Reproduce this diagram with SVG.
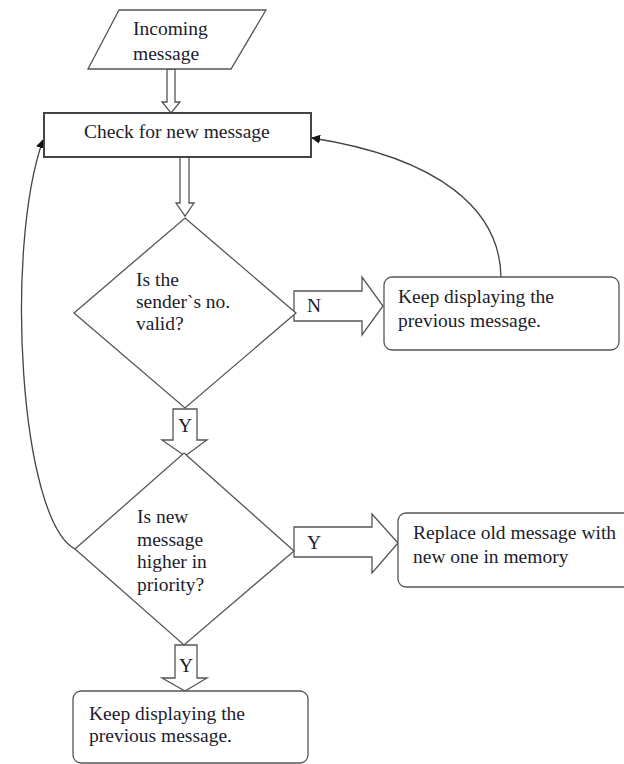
<svg xmlns="http://www.w3.org/2000/svg" width="624" height="764" viewBox="0 0 624 764">
<defs>
<style>
.shape{fill:#fff;stroke:#555;stroke-width:1.3}
.main{fill:#fff;stroke:#444;stroke-width:2}
.blk{fill:#fff;stroke:#555;stroke-width:1.3}
.t{font-family:"Liberation Serif","Times New Roman",serif;font-size:19.5px;fill:#1c1c2c}
.con{fill:none;stroke:#444;stroke-width:1.3}
</style>
<marker id="ah" viewBox="0 0 10 10" refX="9" refY="5" markerWidth="9" markerHeight="9" markerUnits="userSpaceOnUse" orient="auto">
<path d="M0,0 L10,5 L0,10 Z" fill="#111"/>
</marker>
</defs>
<rect width="624" height="764" fill="#fff"/>
<g id="connectors">
<polygon class="blk" points="167,69 175,69 175,102 180,102 171,113 162,102 167,102"/>
<polygon class="blk" points="180,157 189,157 189,203 194,203 185,216 176,203 180,203"/>
<path class="con" d="M501,277 C500,210 440,158 312,138" marker-end="url(#ah)"/>
<path class="con" d="M75,549 C20,520 4,250 43,140" marker-end="url(#ah)"/>
<g id="arrowN">
<polygon class="blk" points="294,291 362,291 362,277 383,306 362,335 362,321 294,321"/>
<text class="t" x="307" y="312">N</text>
</g>
<g id="arrowY1">
<polygon class="blk" points="173,409 197,409 197,440 207,440 185,456 162,440 173,440"/>
<text class="t" x="178" y="432">Y</text>
</g>
<g id="arrowY2">
<polygon class="blk" points="294,527 372,527 372,514 398,543 372,573 372,557 294,557"/>
<text class="t" x="307" y="549">Y</text>
</g>
<g id="arrowY3">
<polygon class="blk" points="175,645 197,645 197,678 207,678 185,691 162,678 175,678"/>
<text class="t" x="179" y="672">Y</text>
</g>
</g>
<g id="incoming">
<polygon class="shape" points="119,10 266,10 231,69 88,69"/>
<text class="t" x="133" y="35">Incoming</text>
<text class="t" x="133" y="60">message</text>
</g>
<g id="check">
<rect class="main" x="44" y="113" width="267" height="44"/>
<text class="t" x="84" y="138">Check for new message</text>
</g>
<g id="valid">
<polygon class="shape" points="185,218 296,313 185,408 74,313"/>
<text class="t" x="136" y="286">Is the</text>
<text class="t" x="136" y="308">sender`s no.</text>
<text class="t" x="136" y="330">valid?</text>
</g>
<g id="keep1">
<rect class="shape" x="384" y="277" width="235" height="73" rx="8"/>
<text class="t" x="398" y="303">Keep displaying the</text>
<text class="t" x="398" y="327">previous message.</text>
</g>
<g id="priority">
<polygon class="shape" points="184,453 294,551 184,645 75,549"/>
<text class="t" x="137" y="523">Is new</text>
<text class="t" x="137" y="546">message</text>
<text class="t" x="137" y="568">higher in</text>
<text class="t" x="137" y="591">priority?</text>
</g>
<g id="replace">
<rect class="shape" x="398" y="513" width="240" height="74" rx="8"/>
<text class="t" x="413" y="539">Replace old message with</text>
<text class="t" x="413" y="563">new one in memory</text>
</g>
<g id="keep2">
<rect class="shape" x="73" y="691" width="235" height="72" rx="8"/>
<text class="t" x="89" y="720">Keep displaying the</text>
<text class="t" x="89" y="742">previous message.</text>
</g>
</svg>
